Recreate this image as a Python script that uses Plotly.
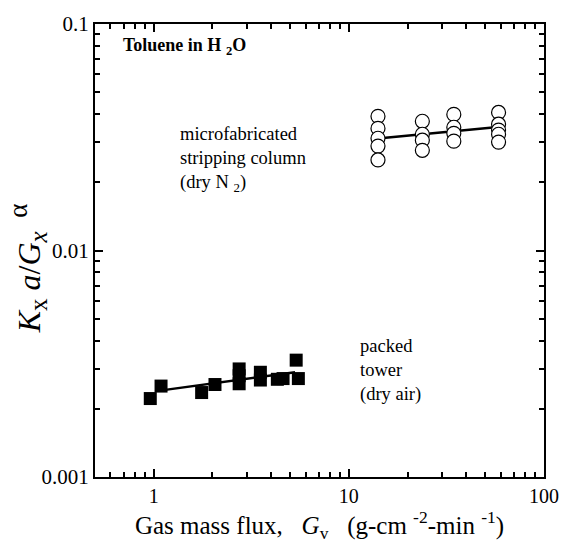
import plotly.graph_objects as go

# packed tower (dry air) - filled squares
packed_x = [0.96, 1.09, 1.76, 2.06, 2.74, 2.74, 2.74, 3.52, 3.52, 4.3, 4.6, 5.37, 5.51]
packed_y = [0.00222, 0.00252, 0.00236, 0.00256, 0.00300, 0.00280, 0.00258, 0.00290, 0.00268, 0.00270, 0.00272, 0.00328, 0.00272]

# microfabricated stripping column (dry N2) - open circles
micro_x = [14.1, 14.1, 14.1, 14.1, 14.1,
           23.8, 23.8, 23.8, 23.8,
           34.5, 34.5, 34.5, 34.5,
           58.5, 58.5, 58.5, 58.5, 58.5]
micro_y = [0.0391, 0.0346, 0.0313, 0.0289, 0.0251,
           0.0372, 0.0326, 0.0307, 0.0277,
           0.0399, 0.0350, 0.0329, 0.0304,
           0.0407, 0.0361, 0.0340, 0.0326, 0.0301]

# fitted lines (end points)
packed_fit_x = [1.05, 5.3]
packed_fit_y = [0.00240, 0.00290]
micro_fit_x = [14.5, 60.0]
micro_fit_y = [0.0313, 0.0352]

x_ticks = [1, 10, 100]
x_ticktext = ["1", "10", "100"]
y_ticks = [0.001, 0.01, 0.1]
y_ticktext = ["0.001", "0.01", "0.1"]

x_minor = [0.6, 0.7, 0.8, 0.9, 2, 3, 4, 5, 6, 7, 8, 9, 20, 30, 40, 50, 60, 70, 80, 90]
y_minor = [m * d for d in (0.001, 0.01) for m in range(2, 10)]

FONT = '"Liberation Serif", "Times New Roman", Times, serif'

fig = go.Figure()
fig.add_trace(go.Scatter(x=packed_fit_x, y=packed_fit_y, mode="lines",
                         line=dict(color="black", width=2.5), showlegend=False))
fig.add_trace(go.Scatter(x=micro_fit_x, y=micro_fit_y, mode="lines",
                         line=dict(color="black", width=2.5), showlegend=False))
fig.add_trace(go.Scatter(x=packed_x, y=packed_y, mode="markers",
                         marker=dict(symbol="square", size=13, color="black",
                                     line=dict(width=0)), showlegend=False))
fig.add_trace(go.Scatter(x=micro_x, y=micro_y, mode="markers",
                         marker=dict(symbol="circle", size=14, color="white",
                                     line=dict(color="black", width=1.2)), showlegend=False))

axis_common = dict(
    showline=True, linecolor="black", linewidth=2, mirror="ticks",
    ticks="inside", ticklen=8, tickwidth=2, tickcolor="black",
    showgrid=False, zeroline=False,
)

fig.update_xaxes(type="log", range=[-0.301, 2], tickvals=x_ticks, ticktext=x_ticktext,
                 tickfont=dict(family=FONT, size=20, color="black"),
                 minor=dict(tickvals=x_minor, ticks="inside", ticklen=5, tickwidth=2,
                            tickcolor="black", showgrid=False),
                 title=dict(text="Gas mass flux,   <i>G</i><sub>v</sub>   (g-cm <sup>-2</sup>-min <sup>-1</sup>)",
                            font=dict(family=FONT, size=25, color="black"), standoff=10),
                 **axis_common)
fig.update_yaxes(type="log", range=[-3, -1], tickvals=y_ticks, ticktext=y_ticktext,
                 tickfont=dict(family=FONT, size=21, color="black"),
                 minor=dict(tickvals=y_minor, ticks="inside", ticklen=5, tickwidth=2,
                            tickcolor="black", showgrid=False),
                 **axis_common)

# y-axis title
fig.add_annotation(x=-0.15, y=0.46, xref="paper", yref="paper", xanchor="center", yanchor="middle",
                   textangle=-90, showarrow=False,
                   text=("<i>K</i><sub><span style='font-size:25px'>x</span></sub> <i>a</i>/<i>G</i>"
                         "<sub><span style='font-size:25px'><i>x</i></span></sub>"
                         "<sup><span style='font-size:27px'>  α</span></sup>"),
                   font=dict(family=FONT, size=32, color="black"))

fig.add_annotation(x=0.059, y=0.95, xref="paper", yref="paper", xanchor="left", yanchor="middle",
                   text="<b>Toluene in H <sub>2</sub>O</b>", showarrow=False,
                   font=dict(family=FONT, size=18, color="black"))
fig.add_annotation(x=0.185, y=0.70, xref="paper", yref="paper", xanchor="left", yanchor="middle",
                   align="left",
                   text="microfabricated<br>stripping column<br>(dry N <sub>2</sub>)", showarrow=False,
                   font=dict(family=FONT, size=18.5, color="black"))
fig.add_annotation(x=0.585, y=0.235, xref="paper", yref="paper", xanchor="left", yanchor="middle",
                   align="left",
                   text="packed<br>tower<br>(dry air)", showarrow=False,
                   font=dict(family=FONT, size=18.5, color="black"))

fig.update_layout(
    width=571, height=548,
    margin=dict(l=95, r=16, t=21, b=71),
    paper_bgcolor="white", plot_bgcolor="white",
    font=dict(family=FONT, color="black"),
)

fig.write_html("out.html")
